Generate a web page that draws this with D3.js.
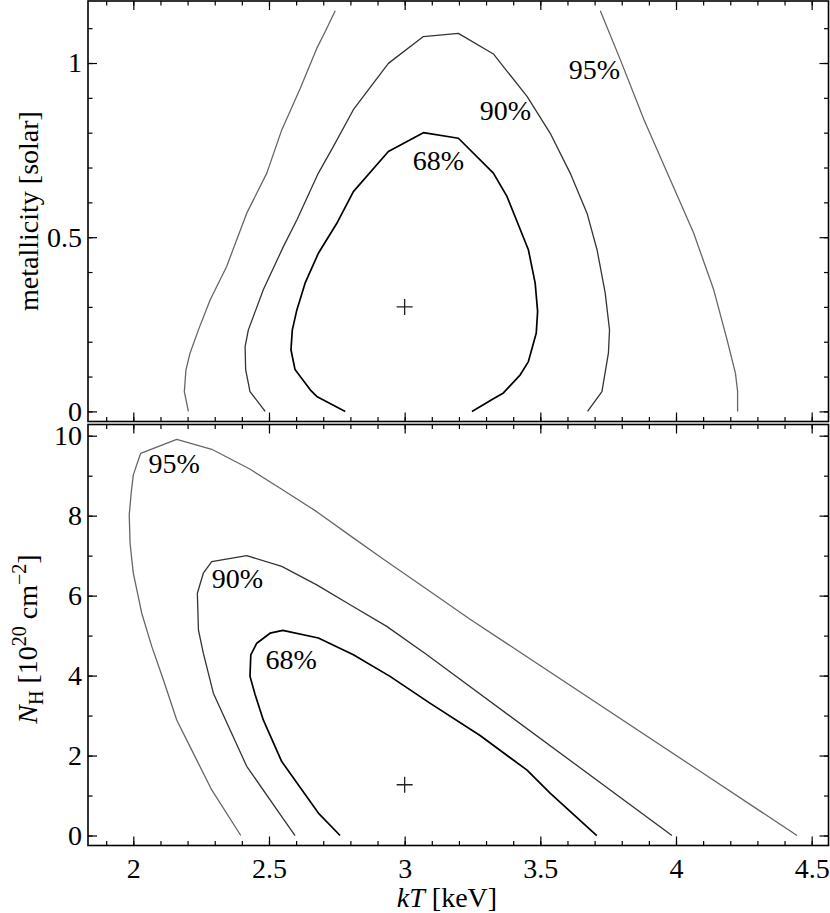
<!DOCTYPE html>
<html>
<head>
<meta charset="utf-8">
<script src="https://cdn.jsdelivr.net/npm/d3@7"></script>
<style>
body { margin: 0; background: #fff; }
svg text { font-family: 'Liberation Serif', 'DejaVu Serif'; }
</style>
</head>
<body>
<script>
// tick values
var kTticks = [2, 2.5, 3, 3.5, 4, 4.5];
var metTicks = [0, 0.5, 1];
var nhTicks = [0, 2, 4, 6, 8, 10];

// best fit
var bestKT = 3.0;
var bestMet = 0.30;
var bestNH = 1.27;

// confidence contours, kT vs metallicity
var met68 = [[2.781,0],[2.676,0.043],[2.652,0.062],[2.596,0.120],[2.581,0.177],[2.586,0.234],[2.603,0.292],
  [2.633,0.368],[2.682,0.454],[2.750,0.540],[2.811,0.631],[2.940,0.746],[3.069,0.800],[3.198,0.784],
  [3.327,0.684],[3.377,0.617],[3.456,0.464],[3.481,0.368],[3.490,0.287],[3.485,0.225],[3.456,0.143],
  [3.426,0.105],[3.364,0.053],[3.327,0.036],[3.248,0]];
var met90 = [[2.486,0],[2.430,0.057],[2.414,0.120],[2.412,0.186],[2.424,0.234],[2.479,0.349],[2.553,0.473],
  [2.603,0.550],[2.682,0.684],[2.737,0.760],[2.811,0.866],[2.940,0.999],[3.069,1.076],[3.198,1.085],
  [3.327,1.026],[3.451,0.904],[3.536,0.799],[3.610,0.684],[3.672,0.569],[3.709,0.464],[3.739,0.340],
  [3.755,0.234],[3.751,0.168],[3.727,0.057],[3.674,0]];
var met95a = [[2.744,1.150],[2.707,1.090],[2.676,1.042],[2.615,0.927],[2.547,0.808],[2.492,0.684],[2.418,0.569],
  [2.344,0.416],[2.283,0.320],[2.240,0.234],[2.209,0.167],[2.194,0.119],[2.188,0.057],[2.203,0]];
var met95b = [[3.721,1.150],[3.795,1.009],[3.882,0.837],[3.979,0.665],[4.065,0.512],[4.139,0.349],
  [4.188,0.206],[4.219,0.110],[4.227,0.057],[4.227,0]];

// confidence contours, kT vs NH
var nh68 = [[2.762,0],[2.682,0.56],[2.547,1.85],[2.479,2.89],[2.449,3.52],[2.430,3.98],[2.433,4.52],
  [2.455,4.81],[2.504,5.06],[2.551,5.13],[2.682,4.94],[2.811,4.52],[2.946,3.98],[3.093,3.31],
  [3.278,2.50],[3.450,1.64],[3.536,1.06],[3.708,0]];
var nh90 = [[2.596,0],[2.547,0.475],[2.418,1.73],[2.295,3.56],[2.258,4.56],[2.240,5.14],[2.236,6.06],
  [2.258,6.56],[2.289,6.85],[2.418,7.00],[2.547,6.73],[2.676,6.27],[2.799,5.77],[2.934,5.23],
  [3.082,4.52],[3.985,0]];
var nh95 = [[2.396,0],[2.289,1.14],[2.221,2.06],[2.160,2.89],[2.111,3.89],[2.068,4.73],[2.031,5.56],
  [2.000,6.56],[1.988,7.31],[1.985,8.02],[1.992,8.56],[2.000,9.02],[2.027,9.56],[2.160,9.91],
  [2.289,9.66],[2.431,9.16],[2.547,8.66],[2.676,8.10],[2.799,7.50],[2.922,6.91],[3.082,6.16],
  [3.241,5.41],[4.090,1.60],[4.446,0]];

// contour labels: text, kT, value
var metLabels = [["68%", 3.124, 0.693], ["90%", 3.371, 0.837], ["95%", 3.699, 0.954]];
var nhLabels = [["68%", 2.582, 4.16], ["90%", 2.384, 6.19], ["95%", 2.151, 9.06]];

var W = 830, H = 913;
var L = 88, R = 828.5;
var FONT = "'Liberation Serif', 'DejaVu Serif'";
var svg = d3.select("body").append("svg").attr("width", W).attr("height", H)
  .attr("font-family", FONT);

var x = d3.scaleLinear().domain([1.833, 4.562]).range([L, R]);
var yMet = d3.scaleLinear().domain([-0.029, 1.178]).range([421.5, 1]);
var yNH = d3.scaleLinear().domain([-0.25, 10.28]).range([845.5, 424.5]);

var styles = { "68%": ["#000", 1.7], "90%": ["#333", 1.3], "95%": ["#666", 1.3] };

function range(a, b, s) {
  var out = [];
  for (var v = a; v <= b + 1e-9; v += s) out.push(Math.round(v * 100) / 100);
  return out;
}

function panel(y, yTicks, yMinor, curves, labels, best, showX) {
  var top = y.range()[1], bot = y.range()[0];
  var g = svg.append("g");

  // ticks, all four sides, pointing inward
  function ax(axis, tv, size, pad, lab, tr) {
    var a = axis.tickValues(tv).tickSizeInner(-size).tickSizeOuter(0).tickPadding(pad)
      .tickFormat(lab ? function(d) { return String(d); } : "");
    var s = g.append("g").attr("transform", tr).call(a).attr("font-family", FONT).attr("font-size", 28);
    s.select(".domain").remove();
    s.selectAll("line").attr("stroke", "#000").attr("stroke-width", 1.2);
    s.selectAll("text").attr("fill", "#000");
  }
  var xMinor = range(1.9, 4.5, 0.1);
  ax(d3.axisBottom(x), kTticks, 9, 13, showX, "translate(0," + bot + ")");
  ax(d3.axisBottom(x), xMinor, 4.5, 0, false, "translate(0," + bot + ")");
  ax(d3.axisTop(x), kTticks, 9, 0, false, "translate(0," + top + ")");
  ax(d3.axisTop(x), xMinor, 4.5, 0, false, "translate(0," + top + ")");
  ax(d3.axisLeft(y), yTicks, 9, 6, true, "translate(" + L + ",0)");
  ax(d3.axisLeft(y), yMinor, 4.5, 0, false, "translate(" + L + ",0)");
  ax(d3.axisRight(y), yTicks, 9, 0, false, "translate(" + R + ",0)");
  ax(d3.axisRight(y), yMinor, 4.5, 0, false, "translate(" + R + ",0)");

  var line = d3.line().x(function(d) { return x(d[0]); }).y(function(d) { return y(d[1]); });
  curves.forEach(function(c) {
    g.append("path").attr("d", line(c[1])).attr("fill", "none")
      .attr("stroke", styles[c[0]][0]).attr("stroke-width", styles[c[0]][1])
      .attr("stroke-linejoin", "round");
  });

  g.selectAll("text.lab").data(labels).enter().append("text").attr("class", "lab")
    .attr("x", function(d) { return x(d[1]); }).attr("y", function(d) { return y(d[2]); })
    .attr("text-anchor", "middle").attr("font-size", 28).text(function(d) { return d[0]; });

  var bx = x(best[0]), by = y(best[1]);
  g.append("path").attr("d", "M" + (bx - 8) + "," + by + "H" + (bx + 8) + "M" + bx + "," + (by - 8) + "V" + (by + 8))
    .attr("stroke", "#222").attr("stroke-width", 1.3);

  g.append("rect").attr("x", L).attr("y", top).attr("width", R - L).attr("height", bot - top)
    .attr("fill", "none").attr("stroke", "#000").attr("stroke-width", 1.6);
}

panel(yMet, metTicks, range(0, 1.1, 0.1),
  [["95%", met95a], ["95%", met95b], ["90%", met90], ["68%", met68]],
  metLabels, [bestKT, bestMet], false);
panel(yNH, nhTicks, range(0, 10, 1),
  [["95%", nh95], ["90%", nh90], ["68%", nh68]],
  nhLabels, [bestKT, bestNH], true);

// axis titles
svg.append("text").attr("transform", "translate(38,211) rotate(-90)").attr("text-anchor", "middle")
  .attr("font-size", 28).text("metallicity [solar]");

var t2 = svg.append("text").attr("transform", "translate(37,639) rotate(-90)").attr("text-anchor", "middle")
  .attr("font-size", 28);
t2.append("tspan").attr("font-style", "italic").text("N");
t2.append("tspan").attr("dy", 6).attr("font-size", 20).text("H");
t2.append("tspan").attr("dy", -6).text(" [10");
t2.append("tspan").attr("dy", -11).attr("font-size", 20).text("20");
t2.append("tspan").attr("dy", 11).text(" cm");
t2.append("tspan").attr("dy", -11).attr("font-size", 20).text("\u22122");
t2.append("tspan").attr("dy", 11).text("]");

var t3 = svg.append("text").attr("x", 447).attr("y", 907).attr("text-anchor", "middle").attr("font-size", 28);
t3.append("tspan").attr("font-style", "italic").text("kT");
t3.append("tspan").text(" [keV]");
</script>
</body>
</html>
